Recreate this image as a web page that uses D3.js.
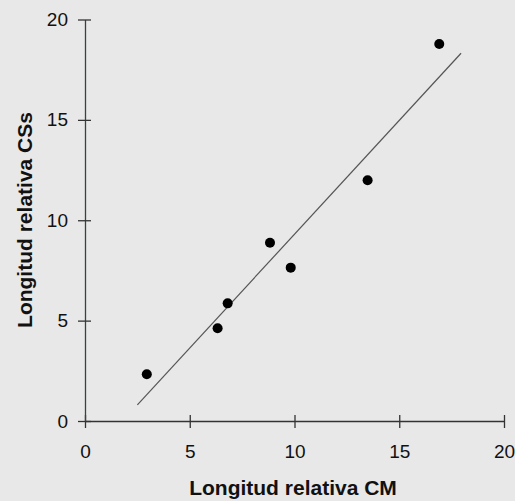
<!DOCTYPE html>
<html>
<head>
<meta charset="utf-8">
<script src="https://cdn.jsdelivr.net/npm/d3@7"></script>
<style>
  body { margin: 0; background: #e8e8e8; }
  svg { display: block; }
  text { font-family: "Liberation Sans", Arial, sans-serif; fill: #111; }
</style>
</head>
<body>
<div class="main"></div>
<script>
const WIDTH = 515;
const HEIGHT = 501;

// data
const cmValues = [2.95, 6.33, 6.81, 8.83, 9.82, 13.49, 16.91];
const cssValues = [2.33, 4.62, 5.86, 8.88, 7.64, 11.99, 18.78];
const fitX = [2.5, 17.95];
const fitY = [0.8, 18.32];
const xTicks = [0, 5, 10, 15, 20];
const yTicks = [0, 5, 10, 15, 20];
const xTitle = "Longitud relativa CM";
const yTitle = "Longitud relativa CSs";

var svg = d3.select(".main")
    .append("svg")
        .attr("width", WIDTH)
        .attr("height", HEIGHT);

svg.append("rect")
    .attr("width", WIDTH)
    .attr("height", HEIGHT)
    .attr("fill", "#e8e8e8");

var x = d3.scaleLinear().domain([0, 20]).range([85, 504]);
var y = d3.scaleLinear().domain([0, 20]).range([421, 19.5]);

// x axis, ticks cross the line
var xAxis = svg.append("g")
    .attr("transform", `translate(0,${y(0)})`)
    .call(d3.axisBottom(x).tickValues(xTicks).tickSize(0).tickPadding(24));
xAxis.select(".domain").attr("stroke", "#333").attr("stroke-width", 1.3);
xAxis.selectAll(".tick line")
    .attr("y1", -6).attr("y2", 7)
    .attr("stroke", "#333").attr("stroke-width", 1.3);
xAxis.selectAll(".tick text")
    .attr("font-size", 19)
    .attr("font-family", "Liberation Sans, Arial, sans-serif")
    .attr("fill", "#111");

var yAxis = svg.append("g")
    .attr("transform", `translate(${x(0)},0)`)
    .call(d3.axisLeft(y).tickValues(yTicks).tickSize(0).tickPadding(17));
yAxis.select(".domain").attr("stroke", "#34463a").attr("stroke-width", 1.3);
yAxis.selectAll(".tick line")
    .attr("x1", -7).attr("x2", 6)
    .attr("stroke", "#333").attr("stroke-width", 1.3);
yAxis.selectAll(".tick text")
    .attr("font-size", 19)
    .attr("font-family", "Liberation Sans, Arial, sans-serif")
    .attr("fill", "#111");

// regression line
svg.append("line")
    .attr("x1", x(fitX[0]))
    .attr("y1", y(fitY[0]))
    .attr("x2", x(fitX[1]))
    .attr("y2", y(fitY[1]))
    .attr("stroke", "#555")
    .attr("stroke-width", 1.2);

// points
svg.selectAll(".dot")
    .data(cmValues.map((v, i) => ({ cm: v, css: cssValues[i] })))
    .join("circle")
    .attr("class", "dot")
    .attr("cx", d => x(d.cm))
    .attr("cy", d => y(d.css))
    .attr("r", 5)
    .attr("fill", "#000");

// titles
svg.append("text")
    .attr("x", 293)
    .attr("y", 495)
    .attr("text-anchor", "middle")
    .attr("font-size", 21)
    .attr("font-weight", "bold")
    .text(xTitle);

svg.append("text")
    .attr("transform", "translate(32,220) rotate(-90)")
    .attr("text-anchor", "middle")
    .attr("font-size", 21)
    .attr("font-weight", "bold")
    .text(yTitle);
</script>
</body>
</html>
